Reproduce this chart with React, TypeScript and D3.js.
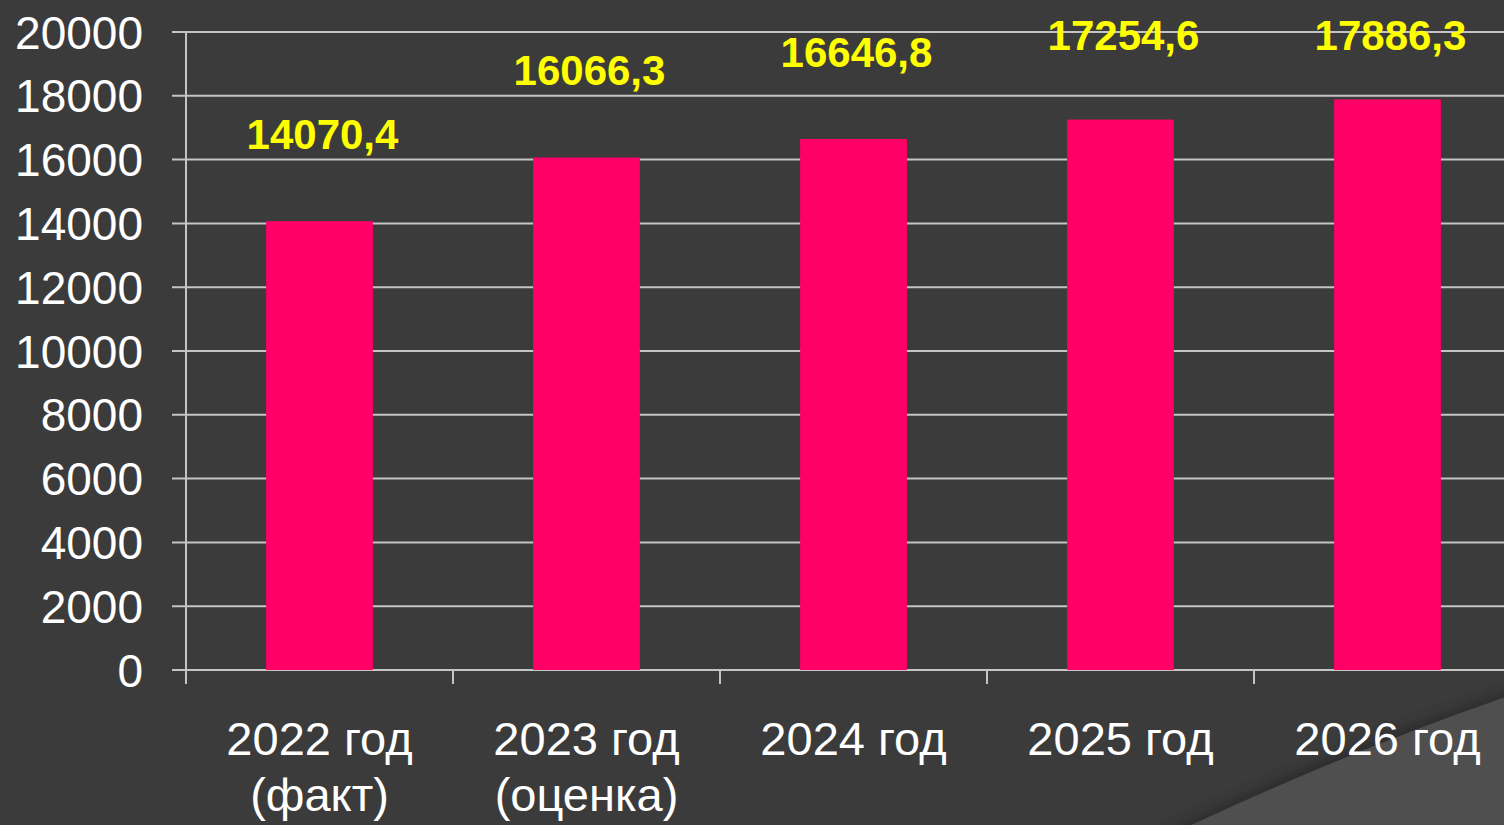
import * as d3 from 'd3'

const YEARS = ['2022 год', '2023 год', '2024 год', '2025 год', '2026 год']
const NOTES = ['(факт)', '(оценка)', '', '', '']
const VALUES = [14070.4, 16066.3, 16646.8, 17254.6, 17886.3]
const LABELS = ['14070,4', '16066,3', '16646,8', '17254,6', '17886,3']
const Y_TICKS = [0, 2000, 4000, 6000, 8000, 10000, 12000, 14000, 16000, 18000, 20000]

const W = 1504
const H = 825

export default function App() {
  const left = 186
  const top = 32
  const bottom = 670
  const bandW = 267

  const x = d3.scaleBand<string>()
    .domain(YEARS)
    .range([left, left + bandW * YEARS.length])
    .paddingInner(0.6)
    .paddingOuter(0.3)

  const y = d3.scaleLinear().domain([0, 20000]).range([bottom, top])

  const bandStep = x.step()
  const boundaries = d3.range(YEARS.length + 1).map(i => left + i * bandStep)

  const font = '"Liberation Sans", Arial, sans-serif'

  return (
    <div style={{ position: 'fixed', left: 0, top: 0, width: W, height: H, overflow: 'hidden' }}>
      <svg width={W} height={H} style={{ display: 'block', background: '#3b3b3b' }}>
        <defs>
          <filter id="shade" x="-20%" y="-20%" width="140%" height="140%">
            <feGaussianBlur stdDeviation="6" />
          </filter>
        </defs>

        {/* corner decoration */}
        <path d="M1160,835 Q1340,745 1514,690 L1514,835 Z" fill="#262626" opacity={0.7} filter="url(#shade)" />
        <path d="M1170,835 Q1345,752 1514,694 L1514,835 Z" fill="#4f4f4f" />

        {/* grid lines */}
        {Y_TICKS.map(t => (
          <line key={t} x1={left - 14} x2={W} y1={y(t)} y2={y(t)} stroke="#c4c4c4" strokeWidth={2} />
        ))}

        {/* y axis */}
        <line x1={left} x2={left} y1={top} y2={bottom + 14} stroke="#c4c4c4" strokeWidth={2} />
        {boundaries.map((b, i) => (
          <line key={i} x1={b} x2={b} y1={bottom} y2={bottom + 14} stroke="#c4c4c4" strokeWidth={2} />
        ))}

        {Y_TICKS.map(t => (
          <text key={t} x={143} y={y(t)} dy="0.36em" textAnchor="end"
            fill="#ffffff" fontSize={46} fontFamily={font}>{t}</text>
        ))}

        {/* bars */}
        {YEARS.map((c, i) => (
          <rect key={c} x={x(c)} y={y(VALUES[i])} width={x.bandwidth()}
            height={bottom - y(VALUES[i])} fill="#ff0066" />
        ))}

        {/* value labels */}
        {YEARS.map((c, i) => (
          <text key={c} x={(x(c) ?? 0) + x.bandwidth() / 2 + 3} y={Math.max(y(VALUES[i]) - 72, 50)}
            textAnchor="middle" fill="#ffff00" fontSize={42} fontWeight="bold" fontFamily={font}>
            {LABELS[i]}
          </text>
        ))}

        {/* category labels */}
        {YEARS.map((c, i) => {
          const cx = (x(c) ?? 0) + x.bandwidth() / 2
          return (
            <text key={c} x={cx} textAnchor="middle" fill="#ffffff" fontSize={47} fontFamily={font}>
              <tspan x={cx} y={755}>{c}</tspan>
              {NOTES[i] && <tspan x={cx} y={811}>{NOTES[i]}</tspan>}
            </text>
          )
        })}
      </svg>
    </div>
  )
}
